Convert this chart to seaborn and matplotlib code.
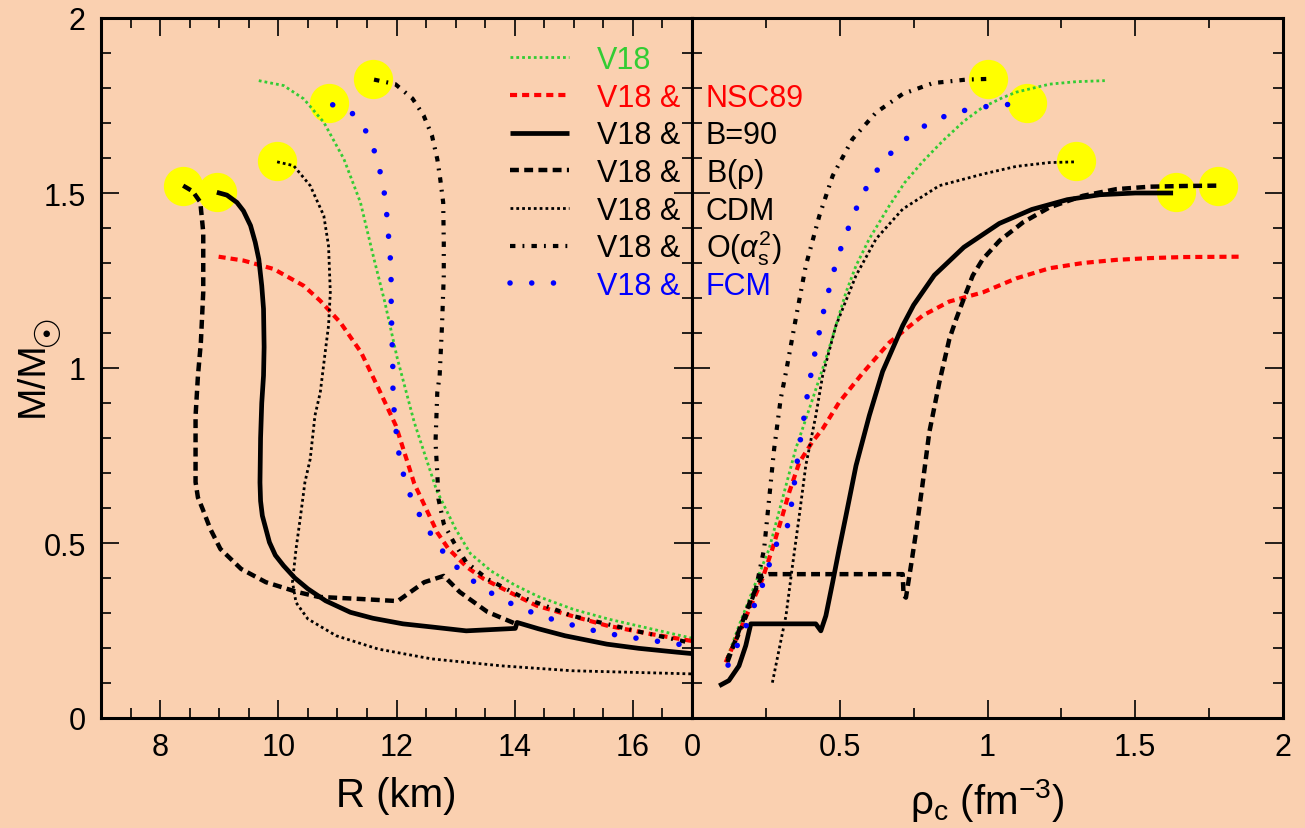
import numpy as np
import pandas as pd
import matplotlib
matplotlib.use("Agg")
import matplotlib.pyplot as plt
import seaborn as sns
from matplotlib.lines import Line2D
from matplotlib.ticker import MultipleLocator, FuncFormatter

# ---------------- data: left panel (R [km], M/Msun) ----------------
r_v18 = [9.67, 10.09, 10.43, 10.77, 11.11, 11.39, 11.62, 11.80, 12.01, 12.30, 12.68, 13.0, 13.25, 13.6, 14.0, 14.4, 15.0, 15.6, 16.3, 17.0]
m_v18_r = [1.821, 1.807, 1.769, 1.702, 1.597, 1.473, 1.311, 1.19, 1.03, 0.845, 0.65, 0.54, 0.47, 0.42, 0.38, 0.347, 0.31, 0.282, 0.255, 0.228]

r_nsc = [8.99, 9.41, 9.92, 10.43, 10.71, 11.05, 11.40, 11.70, 11.99, 12.30, 12.69, 12.88, 13.20, 13.48, 14.0, 14.37, 15.0, 15.56, 16.3, 17.0]
m_nsc_r = [1.318, 1.307, 1.283, 1.235, 1.192, 1.13, 1.045, 0.94, 0.835, 0.67, 0.53, 0.483, 0.43, 0.397, 0.352, 0.321, 0.29, 0.264, 0.24, 0.22]

r_b90 = [8.96, 9.13, 9.30, 9.41, 9.53, 9.61, 9.67, 9.72, 9.75, 9.76, 9.75, 9.72, 9.70, 9.69, 9.70, 9.73, 9.79, 9.85, 9.95, 10.09, 10.28, 10.50, 10.8, 11.22, 11.6, 12.11, 12.6, 13.18, 14.01, 14.04, 14.4, 14.85, 15.56, 16.1, 16.75, 17.0]
m_b90_r = [1.502, 1.494, 1.473, 1.449, 1.407, 1.359, 1.311, 1.235, 1.169, 1.06, 0.978, 0.90, 0.80, 0.673, 0.62, 0.578, 0.54, 0.502, 0.465, 0.435, 0.40, 0.369, 0.335, 0.302, 0.285, 0.269, 0.26, 0.249, 0.256, 0.273, 0.255, 0.235, 0.211, 0.199, 0.188, 0.184]

r_brho = [8.39, 8.55, 8.68, 8.73, 8.73, 8.69, 8.64, 8.60, 8.60, 8.64, 8.72, 8.85, 9.02, 9.37, 9.79, 10.32, 10.68, 11.40, 12.02, 12.47, 12.80, 13.07, 13.54, 14.02]
m_brho_r = [1.521, 1.505, 1.474, 1.388, 1.217, 1.074, 0.977, 0.863, 0.674, 0.63, 0.597, 0.54, 0.483, 0.426, 0.388, 0.36, 0.346, 0.34, 0.334, 0.388, 0.406, 0.36, 0.303, 0.269]

r_cdm = [9.98, 10.26, 10.54, 10.77, 10.85, 10.88, 10.85, 10.80, 10.71, 10.62, 10.54, 10.45, 10.37, 10.30, 10.24, 10.30, 10.50, 10.98, 11.69, 12.59, 13.78, 14.97, 17.0]
m_cdm_r = [1.589, 1.578, 1.521, 1.435, 1.349, 1.216, 1.121, 1.054, 0.93, 0.864, 0.74, 0.673, 0.569, 0.483, 0.388, 0.33, 0.283, 0.235, 0.197, 0.169, 0.149, 0.135, 0.126]

r_oas = [11.62, 11.98, 12.27, 12.46, 12.60, 12.69, 12.74, 12.79, 12.80, 12.80, 12.77, 12.73, 12.69, 12.66, 12.69, 12.71, 12.80, 12.97, 13.18, 13.54, 14.13, 14.97, 16.15, 17.0]
m_oas_r = [1.824, 1.811, 1.77, 1.721, 1.664, 1.597, 1.54, 1.473, 1.359, 1.264, 1.121, 0.978, 0.93, 0.788, 0.70, 0.626, 0.555, 0.502, 0.445, 0.397, 0.345, 0.292, 0.245, 0.214]

r_fcm = [10.92, 11.25, 11.49, 11.63, 11.73, 11.80, 11.84, 11.87, 11.90, 11.91, 11.91, 11.92, 11.93, 11.94, 11.94, 11.97, 12.01, 12.06, 12.16, 12.29, 12.47, 12.67, 12.90, 13.18, 13.48, 13.81, 14.15, 14.50, 14.86, 15.23, 15.59, 15.98, 16.34, 16.72, 17.0]
m_fcm_r = [1.752, 1.728, 1.675, 1.618, 1.556, 1.494, 1.43, 1.367, 1.304, 1.24, 1.176, 1.113, 1.049, 0.986, 0.921, 0.857, 0.794, 0.732, 0.67, 0.611, 0.556, 0.502, 0.45, 0.406, 0.369, 0.337, 0.311, 0.289, 0.271, 0.254, 0.241, 0.23, 0.221, 0.212, 0.205]

# ---------------- data: right panel (rho_c [fm^-3], M/Msun) ----------------
rho_v18 = [0.114, 0.159, 0.216, 0.261, 0.306, 0.351, 0.408, 0.453, 0.487, 0.521, 0.555, 0.60, 0.668, 0.72, 0.781, 0.85, 0.92, 0.984, 1.05, 1.097, 1.21, 1.30, 1.397]
m_v18_c = [0.16, 0.264, 0.388, 0.483, 0.626, 0.769, 0.911, 1.026, 1.121, 1.216, 1.292, 1.369, 1.464, 1.53, 1.59, 1.65, 1.705, 1.745, 1.772, 1.788, 1.811, 1.818, 1.821]

rho_nsc = [0.114, 0.159, 0.204, 0.238, 0.272, 0.306, 0.329, 0.363, 0.408, 0.442, 0.498, 0.577, 0.668, 0.781, 0.871, 0.984, 1.097, 1.21, 1.323, 1.436, 1.549, 1.662, 1.854]
m_nsc_c = [0.159, 0.244, 0.33, 0.397, 0.483, 0.578, 0.645, 0.73, 0.79, 0.826, 0.902, 0.985, 1.073, 1.15, 1.19, 1.216, 1.256, 1.285, 1.30, 1.309, 1.314, 1.317, 1.318]

rho_b90 = [0.092, 0.125, 0.159, 0.182, 0.199, 0.30, 0.419, 0.436, 0.453, 0.476, 0.498, 0.521, 0.555, 0.60, 0.645, 0.713, 0.75, 0.82, 0.92, 1.04, 1.15, 1.27, 1.38, 1.5, 1.628]
m_b90_c = [0.092, 0.107, 0.149, 0.207, 0.269, 0.269, 0.269, 0.249, 0.292, 0.388, 0.483, 0.578, 0.721, 0.864, 0.99, 1.121, 1.18, 1.265, 1.345, 1.413, 1.453, 1.481, 1.495, 1.5, 1.50]

rho_brho = [0.12, 0.159, 0.20, 0.238, 0.26, 0.713, 0.716, 0.724, 0.741, 0.758, 0.781, 0.803, 0.837, 0.871, 0.894, 0.928, 0.95, 0.984, 1.041, 1.12, 1.21, 1.323, 1.436, 1.549, 1.662, 1.775]
m_brho_c = [0.16, 0.25, 0.34, 0.407, 0.411, 0.411, 0.35, 0.344, 0.435, 0.53, 0.673, 0.816, 0.959, 1.083, 1.14, 1.216, 1.264, 1.311, 1.364, 1.416, 1.459, 1.492, 1.511, 1.518, 1.52, 1.521]

rho_cdm = [0.272, 0.295, 0.318, 0.34, 0.363, 0.385, 0.419, 0.442, 0.487, 0.555, 0.623, 0.713, 0.837, 0.984, 1.097, 1.21, 1.30]
m_cdm_c = [0.101, 0.197, 0.292, 0.435, 0.578, 0.721, 0.864, 0.978, 1.121, 1.264, 1.369, 1.454, 1.521, 1.554, 1.576, 1.587, 1.589]

rho_oas = [0.12, 0.171, 0.216, 0.244, 0.261, 0.278, 0.30, 0.318, 0.351, 0.385, 0.431, 0.476, 0.543, 0.623, 0.713, 0.815, 0.928, 1.003]
m_oas_c = [0.169, 0.264, 0.369, 0.483, 0.626, 0.769, 0.911, 0.988, 1.14, 1.292, 1.435, 1.549, 1.654, 1.73, 1.783, 1.814, 1.824, 1.826]

rho_fcm = [0.122, 0.154, 0.185, 0.213, 0.241, 0.264, 0.289, 0.323, 0.337, 0.347, 0.357, 0.368, 0.38, 0.391, 0.404, 0.418, 0.434, 0.449, 0.468, 0.487, 0.511, 0.538, 0.567, 0.602, 0.643, 0.696, 0.755, 0.819, 0.888, 0.964, 1.037, 1.114]
m_fcm_c = [0.151, 0.209, 0.267, 0.326, 0.385, 0.445, 0.504, 0.549, 0.612, 0.674, 0.738, 0.801, 0.864, 0.927, 0.989, 1.052, 1.115, 1.177, 1.238, 1.30, 1.36, 1.419, 1.478, 1.534, 1.586, 1.635, 1.676, 1.707, 1.73, 1.743, 1.752, 1.754]

# maximum-mass markers
max_r = [8.39, 8.97, 9.98, 10.85, 11.60]
max_m_r = [1.521, 1.504, 1.592, 1.757, 1.826]
max_rho = [1.003, 1.132, 1.298, 1.637, 1.78]
max_m_c = [1.826, 1.757, 1.591, 1.503, 1.521]

legend_left = ["V18", "V18 &", "V18 &", "V18 &", "V18 &", "V18 &", "V18 &"]
legend_right = ["", "NSC89", "B=90", r"B($\mathregular{\rho}$)", "CDM", r"O($\alpha_\mathregular{s}^\mathregular{2}$)", "FCM"]

# ---------------- style ----------------
sns.set_theme(style="ticks")
plt.rcParams['font.family'] = ['Liberation Sans', 'DejaVu Sans']
plt.rcParams['mathtext.fontset'] = 'custom'
plt.rcParams['mathtext.rm'] = 'Liberation Sans'
plt.rcParams['mathtext.it'] = 'Liberation Sans:italic'
plt.rcParams['mathtext.bf'] = 'Liberation Sans:bold'
plt.rcParams['mathtext.sf'] = 'Liberation Sans'
for k in ['text.color', 'axes.labelcolor', 'xtick.color', 'ytick.color', 'axes.edgecolor']:
    plt.rcParams[k] = 'black'

BG = '#FAD0B0'
styles = [
    dict(color='#33CC33', lw=2.0, linestyle=(0, (1.0, 1.1)), dash_capstyle='butt'),       # V18
    dict(color='#FF0000', lw=3.0, linestyle=(0, (1.7, 1.2)), dash_capstyle='butt'),       # NSC89
    dict(color='black', lw=3.4, linestyle='-', solid_capstyle='butt'),                    # B=90
    dict(color='black', lw=3.2, linestyle=(0, (2.0, 1.2)), dash_capstyle='butt'),         # B(rho)
    dict(color='black', lw=2.0, linestyle=(0, (1.0, 1.1)), dash_capstyle='butt'),         # CDM
    dict(color='black', lw=3.0, linestyle=(0, (1.3, 1.7, 0.45, 1.7)), dash_capstyle='butt'),  # O(as^2)
    dict(color='#0000FF', lw=4.0, linestyle=(0, (0.01, 3.9)), dash_capstyle='round'),     # FCM
]
text_colors = ['#33CC33', '#FF0000', 'black', 'black', 'black', 'black', '#0000FF']

left_series = [(r_v18, m_v18_r), (r_nsc, m_nsc_r), (r_b90, m_b90_r), (r_brho, m_brho_r),
               (r_cdm, m_cdm_r), (r_oas, m_oas_r), (r_fcm, m_fcm_r)]
right_series = [(rho_v18, m_v18_c), (rho_nsc, m_nsc_c), (rho_b90, m_b90_c), (rho_brho, m_brho_c),
                (rho_cdm, m_cdm_c), (rho_oas, m_oas_c), (rho_fcm, m_fcm_c)]

W, H = 1305, 829
fig, (axL, axR) = plt.subplots(1, 2, figsize=(W / 100, H / 100), dpi=100, sharey=True)
fig.subplots_adjust(left=101 / W, right=1283 / W, top=1 - 19 / H, bottom=1 - 719 / H, wspace=0)
fig.patch.set_facecolor(BG)

for ax, series, (mx, my) in [(axL, left_series, (max_r, max_m_r)), (axR, right_series, (max_rho, max_m_c))]:
    ax.set_facecolor(BG)
    sns.scatterplot(x=mx, y=my, s=800, color='#FFFF00', linewidth=0, ax=ax, zorder=1, legend=False)
    for (xs, ys), st in zip(series, styles):
        sns.lineplot(x=xs, y=ys, sort=False, estimator=None, ax=ax, legend=False, zorder=3, **st)
    for sp in ax.spines.values():
        sp.set_linewidth(2.2)
        sp.set_color('black')
        sp.set_zorder(4)
    ax.tick_params(which='both', direction='in', top=True, right=True, colors='black',
                   labelcolor='black', width=1.2, labelsize=22)
    ax.tick_params(which='major', length=13)
    ax.tick_params(which='minor', length=7)
    ax.tick_params(axis='x', which='major', pad=10)
    ax.tick_params(axis='y', which='major', pad=11)
    ax.yaxis.set_major_locator(MultipleLocator(0.5))
    ax.yaxis.set_minor_locator(MultipleLocator(0.1))
    ax.set_ylim(0, 2)

fmt = FuncFormatter(lambda v, p: f"{v:g}")
axL.set_xlim(7, 17)
axL.xaxis.set_major_locator(MultipleLocator(2))
axL.xaxis.set_minor_locator(MultipleLocator(0.5))
axL.xaxis.set_major_formatter(fmt)
axL.yaxis.set_major_formatter(fmt)
axR.set_xlim(0, 2)
axR.xaxis.set_major_locator(MultipleLocator(0.5))
axR.xaxis.set_minor_locator(MultipleLocator(0.25))
axR.xaxis.set_major_formatter(fmt)
axR.tick_params(axis='y', labelleft=False)

axL.set_xlabel("R (km)", fontsize=29, labelpad=10, color='black')
axR.set_xlabel(r"ρ$_\mathregular{c}$ (fm$^\mathregular{-3}$)", fontsize=29, labelpad=10, color='black')
axL.set_ylabel("M/M", fontsize=28, color='black')
axL.yaxis.set_label_coords(-0.085, 0.485)
# solar symbol as the subscript of the y label
fig.text(48 / W, 1 - 330 / H, "☉", fontsize=26, family=['DejaVu Sans'], rotation=90,
         ha='center', va='center', color='black')

# legend
handles = [Line2D([], [], **st) for st in styles]
leg = fig.legend(handles, legend_left, loc='upper left', bbox_to_anchor=(510 / W, 1 - 46 / H),
                 frameon=False, fontsize=22, handlelength=1.93, handletextpad=0.92,
                 labelspacing=0.25, borderpad=0, borderaxespad=0, labelcolor=text_colors)
leg.set_zorder(10)
fig.canvas.draw()
for t, lab, col in zip(leg.get_texts(), legend_right, text_colors):
    if not lab:
        continue
    yb = t.get_transform().transform((0, 0))[1]
    fig.text(706 / W, yb / fig.bbox.height, lab, fontsize=22, color=col, va='baseline', ha='left', zorder=11)

fig.savefig("out.png", dpi=100, facecolor=BG)
